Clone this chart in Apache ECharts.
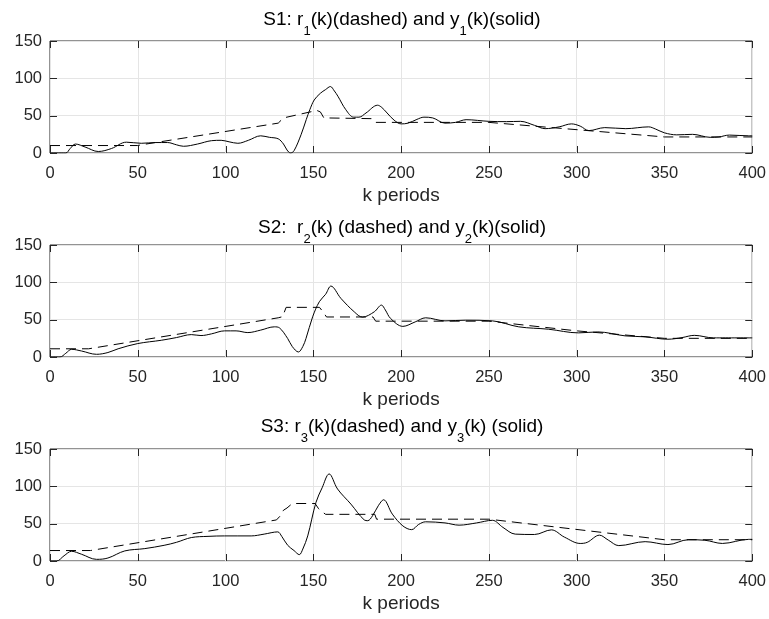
<!DOCTYPE html>
<html>
<head>
<meta charset="utf-8">
<script src="https://cdn.jsdelivr.net/npm/echarts@6/dist/echarts.min.js"></script>
<style>html,body{margin:0;padding:0;background:#fff;}#c{width:769px;height:619px;}</style>
</head>
<body>
<div id="c"></div>
<script>
// ---- data: [k, value] ----
const xTicks = [0, 50, 100, 150, 200, 250, 300, 350, 400];
const yTicks = [0, 50, 100, 150];

const r1 = [[0,10],[50,10],[52,11],[130,40],[131,41],[133,47],[152,57],[154,55],[156,47],[157,46],[183,46],[185,41],[250,41],[350,21.5],[400,21.5]];
const y1 = [[0,0],[9,0],[11.5,6],[14.5,12],[20,8],[27.5,2],[35,6],[43.5,14.5],[52,13],[60,14],[67,14],[72,11],[76,9],[84,12],[92,16.5],[97.5,17],[102,15],[107,13],[113,17],[120,23],[125,21],[130,19],[133,12],[135,4],[137,0],[139,3],[143,24.5],[146,45],[148,58],[150.5,71],[154,80],[157,85],[159.7,89],[162,83],[164,76],[168.5,58],[173,48],[176,48],[180,53.6],[186.6,64],[189,61],[192,53.6],[196,44],[200,39],[204,40],[209,45],[213,48],[218,47],[225,40],[231,41],[237,44.6],[250,42.4],[260,42],[268,42.4],[276,37],[282,32.6],[290,35],[297,39],[302,36],[307,30],[316,34],[328,32.6],[341,35],[345,32],[350,27],[357,24.3],[366,25],[376,21],[381,21.5],[387,24],[398,23],[400,23]];

const r2 = [[0,11],[22,11],[130,52.5],[132.5,54],[134.5,66.5],[153.5,66.5],[156,59],[157.5,53.6],[184,53.6],[185.5,48],[250,48],[300,35],[350,25],[400,25]];
const y2 = [[0,0],[5.7,0],[9,5],[12.3,10.3],[18,8],[26.5,3.6],[33,6],[38.8,11],[50,18],[63.4,22.4],[72,26],[80.5,30],[86,28.7],[92,31],[99.4,35],[106,35],[112.7,32.7],[120,36],[127.8,40.4],[130.7,39],[135.4,24.7],[138,14],[141.5,6.7],[144,14],[145.8,24.7],[149.6,53.8],[153.4,74],[157,84],[160,95],[165.7,78.5],[173.3,60.5],[178,53.4],[184.7,60.5],[188.8,69.5],[191,63],[194,51.6],[201,41],[208,47],[214,52.5],[225,48.4],[236.7,49.3],[252,48.4],[267,40.4],[284,37.2],[301,32.3],[312,33.6],[327.6,28.3],[339,27],[352,23.8],[360,26],[367,29],[378,25.6],[400,25.6]];

const r3 = [[0,14],[23,14],[129,55],[131,60],[133,68],[135,71],[138,77],[151,77],[153,70],[155,66],[157,62.5],[185,62.5],[186,56],[250,56],[350,28.5],[400,28.5]];
const y3 = [[0,0],[3.8,0],[8,7],[12.3,13],[18,9],[26.5,2.2],[33,4],[42.6,13.5],[54,16.6],[65,21],[72,25],[80.5,31.4],[90,33],[99.4,33.6],[114.6,33.6],[122,36],[129.7,39],[132,33],[135.4,21],[139,14],[142,8.5],[144,16],[146.8,33.6],[151.5,78.5],[155,98],[159,116.6],[163.8,96.4],[171.4,76.2],[179,55],[181,54],[183.7,60.5],[187,74],[190,82],[195,62.8],[201,47],[206,42],[210,49],[214,52.5],[225,51],[233,48],[243,51],[252,54.5],[258,45],[265,36],[276,35.5],[285.6,41.7],[293,32],[302,23.5],[306,25],[313,34.6],[318,28],[324,20.6],[339,25.9],[352,22],[363.6,28.5],[373,27.8],[383,23.5],[398,29],[400,29]];

const titles = [
  ['S1: r', '1', '(k)(dashed) and y', '1', '(k)(solid)'],
  ['S2:  r', '2', '(k) (dashed) and y', '2', '(k)(solid)'],
  ['S3: r', '3', '(k)(dashed) and y', '3', '(k) (solid)']
];
const xName = 'k periods';

// ---- layout ----
const FONT = 'Liberation Sans';
const AX = '#262626';
const panels = [{top: 41, titleTop: 10}, {top: 245, titleTop: 218}, {top: 449, titleTop: 417}];
const PH = 112;
const TICK = 7;

const refs = [r1, r2, r3];
const outs = [y1, y2, y3];

const grid = panels.map(p => ({left: 50, right: 15, top: p.top, height: PH, show: true, borderColor: AX, borderWidth: 1, backgroundColor: '#fff'}));

const xRange = {min: xTicks[0], max: xTicks[xTicks.length - 1], interval: xTicks[1] - xTicks[0]};
const yRange = {min: yTicks[0], max: yTicks[yTicks.length - 1], interval: yTicks[1] - yTicks[0]};

const xAxis = [];
const yAxis = [];
panels.forEach((p, i) => {
  xAxis.push(Object.assign({
    gridIndex: i, type: 'value', position: 'bottom',
    axisLine: {show: false}, axisTick: {show: false},
    axisLabel: {margin: 12, fontSize: 16.5, color: AX, fontFamily: FONT},
    splitLine: {show: true, lineStyle: {color: '#e5e5e5', width: 1}},
    name: xName, nameLocation: 'middle', nameGap: 33,
    nameTextStyle: {fontSize: 19, color: AX, fontFamily: FONT}
  }, xRange));
  yAxis.push(Object.assign({
    gridIndex: i, type: 'value', position: 'left',
    axisLine: {show: false}, axisTick: {show: false},
    axisLabel: {margin: 8, fontSize: 16.5, color: AX, fontFamily: FONT},
    splitLine: {show: true, lineStyle: {color: '#e5e5e5', width: 1}}
  }, yRange));
});

const crisp = v => Math.round(v) + 0.5;
function tickLine(x1, y1, x2, y2) {
  return {type: 'line', shape: {x1: x1, y1: y1, x2: x2, y2: y2}, style: {stroke: AX, lineWidth: 1}};
}

const series = [];
panels.forEach((p, i) => {
  series.push({
    type: 'line', xAxisIndex: i, yAxisIndex: i, data: refs[i], showSymbol: false, smooth: false,
    lineStyle: {color: '#000', width: 1, type: [10, 6]}, z: 3
  });
  series.push({
    type: 'line', xAxisIndex: i, yAxisIndex: i, data: outs[i], showSymbol: false, smooth: 0.35,
    lineStyle: {color: '#000', width: 1}, z: 4
  });
  // inward ticks on all four sides of the box, placed by the axes' scales
  series.push({
    type: 'custom', xAxisIndex: i, yAxisIndex: i, clip: false, silent: true, z: 5,
    data: xTicks.map(v => [v]),
    renderItem: function (params, api) {
      const cs = params.coordSys;
      const x = crisp(api.coord([api.value(0), yTicks[0]])[0]);
      const yb = cs.y + cs.height, yt = cs.y;
      return {type: 'group', children: [tickLine(x, yb, x, yb - TICK), tickLine(x, yt, x, yt + TICK)]};
    }
  });
  series.push({
    type: 'custom', xAxisIndex: i, yAxisIndex: i, clip: false, silent: true, z: 5,
    data: yTicks.map(v => [xTicks[0], v]),
    renderItem: function (params, api) {
      const cs = params.coordSys;
      const y = crisp(api.coord([api.value(0), api.value(1)])[1]);
      const xl = cs.x, xr = cs.x + cs.width;
      return {type: 'group', children: [tickLine(xl, y, xl + TICK, y), tickLine(xr, y, xr - TICK, y)]};
    }
  });
});

const rich = {
  n: {fontSize: 19, lineHeight: 22, color: '#000', fontFamily: FONT, fontWeight: 'normal', verticalAlign: 'top'},
  s: {fontSize: 13, lineHeight: 14, color: '#000', fontFamily: FONT, fontWeight: 'normal', verticalAlign: 'top', padding: [15, 0, 0, 0]}
};
const title = panels.map((p, i) => {
  const t = titles[i];
  const text = t.map((seg, j) => (j % 2 === 1 ? '{s|' + seg + '}' : '{n|' + seg + '}')).join('');
  return {text: text, left: 402, textAlign: 'center', top: p.titleTop, padding: 0, textStyle: {rich: rich, fontFamily: FONT, fontWeight: 'normal'}};
});

const chart = echarts.init(document.getElementById('c'), null, {renderer: 'canvas'});
chart.setOption({
  animation: false,
  backgroundColor: '#fff',
  textStyle: {fontFamily: FONT},
  title: title,
  grid: grid,
  xAxis: xAxis,
  yAxis: yAxis,
  series: series
});
</script>
</body>
</html>
